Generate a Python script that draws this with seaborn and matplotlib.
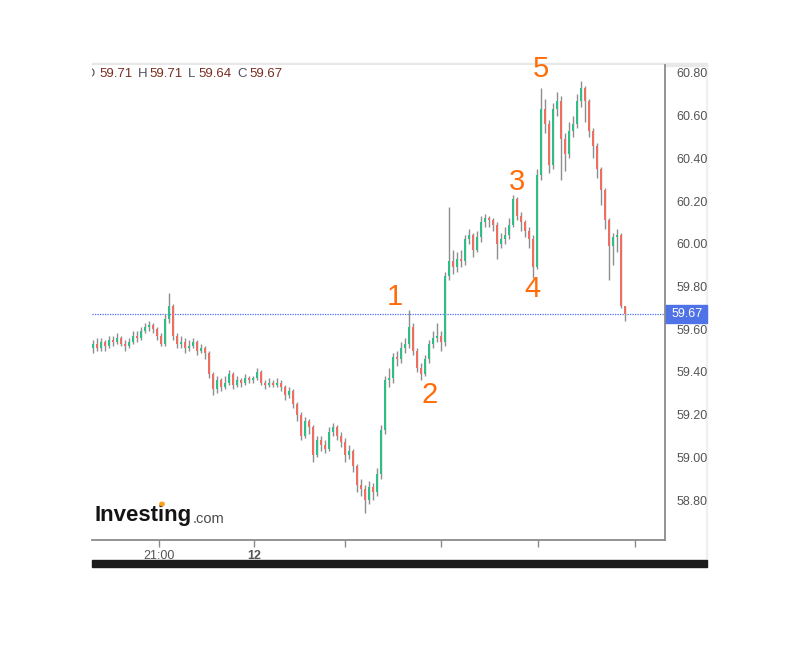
import numpy as np
import matplotlib
matplotlib.use("Agg")
import matplotlib.pyplot as plt
from matplotlib.patches import Rectangle, Circle
import seaborn as sns

# --- price data: one candle per bar, opens follow the previous close ---
first_open = 59.51
closes = [
    59.53, 59.51, 59.54, 59.52, 59.55, 59.54, 59.56, 59.53, 59.52, 59.54,
    59.57, 59.56, 59.59, 59.61, 59.62, 59.60, 59.57, 59.53, 59.65, 59.71,
    59.57, 59.53, 59.54, 59.51, 59.52, 59.54, 59.50, 59.51, 59.49, 59.39,
    59.32, 59.36, 59.33, 59.35, 59.39, 59.34, 59.36, 59.35, 59.37, 59.36,
    59.37, 59.40, 59.35, 59.34, 59.35, 59.34, 59.35, 59.33, 59.29, 59.31,
    59.25, 59.20, 59.10, 59.17, 59.14, 59.01, 59.08, 59.06, 59.04, 59.12,
    59.14, 59.10, 59.07, 59.01, 59.03, 58.96, 58.87, 58.85, 58.80, 58.86,
    58.84, 58.92, 59.13, 59.36, 59.37, 59.47, 59.46, 59.51, 59.53, 59.61,
    59.50, 59.42, 59.39, 59.46, 59.53, 59.56, 59.57, 59.54, 59.85, 59.92,
    59.89, 59.93, 59.92, 60.02, 60.04, 59.97, 60.03, 60.10, 60.12, 60.11,
    60.09, 60.00, 60.02, 60.04, 60.09, 60.21, 60.13, 60.10, 60.06, 60.02,
    59.89, 60.32, 60.63, 60.56, 60.37, 60.63, 60.67, 60.49, 60.42, 60.53,
    60.56, 60.67, 60.73, 60.67, 60.53, 60.46, 60.35, 60.25, 60.11, 59.99,
    60.03, 60.04, 59.71, 59.67,
]
highs = [
    59.55, 59.56, 59.56, 59.55, 59.57, 59.57, 59.58, 59.57, 59.55, 59.56,
    59.59, 59.59, 59.61, 59.63, 59.64, 59.63, 59.61, 59.58, 59.67, 59.77,
    59.72, 59.58, 59.57, 59.56, 59.55, 59.56, 59.55, 59.53, 59.52, 59.50,
    59.40, 59.38, 59.37, 59.38, 59.41, 59.40, 59.38, 59.37, 59.39, 59.38,
    59.38, 59.42, 59.41, 59.36, 59.37, 59.36, 59.37, 59.36, 59.34, 59.33,
    59.32, 59.26, 59.21, 59.19, 59.18, 59.15, 59.10, 59.10, 59.08, 59.14,
    59.16, 59.15, 59.12, 59.09, 59.06, 59.04, 58.97, 58.90, 58.87, 58.89,
    58.88, 58.95, 59.15, 59.38, 59.42, 59.49, 59.50, 59.54, 59.56, 59.69,
    59.63, 59.51, 59.44, 59.48, 59.55, 59.59, 59.63, 59.59, 59.87, 60.17,
    59.97, 59.96, 59.97, 60.04, 60.07, 60.05, 60.06, 60.13, 60.14, 60.13,
    60.12, 60.10, 60.05, 60.08, 60.12, 60.23, 60.22, 60.15, 60.11, 60.08,
    60.04, 60.35, 60.73, 60.68, 60.58, 60.66, 60.71, 60.69, 60.52, 60.57,
    60.60, 60.70, 60.76, 60.74, 60.68, 60.54, 60.47, 60.36, 60.26, 60.12,
    60.05, 60.07, 60.05, 59.71,
]
lows = [
    59.49, 59.50, 59.50, 59.50, 59.51, 59.52, 59.53, 59.52, 59.50, 59.51,
    59.53, 59.54, 59.55, 59.58, 59.59, 59.58, 59.55, 59.52, 59.52, 59.63,
    59.55, 59.51, 59.51, 59.49, 59.50, 59.51, 59.48, 59.49, 59.46, 59.37,
    59.29, 59.30, 59.31, 59.32, 59.34, 59.32, 59.33, 59.33, 59.34, 59.35,
    59.35, 59.36, 59.34, 59.32, 59.33, 59.33, 59.33, 59.31, 59.27, 59.28,
    59.23, 59.17, 59.08, 59.09, 59.11, 58.98, 59.00, 59.03, 59.02, 59.03,
    59.10, 59.08, 59.05, 58.98, 58.99, 58.93, 58.84, 58.82, 58.74, 58.78,
    58.80, 58.82, 58.90, 59.11, 59.33, 59.35, 59.43, 59.44, 59.49, 59.51,
    59.48, 59.40, 59.36, 59.38, 59.44, 59.51, 59.54, 59.50, 59.52, 59.83,
    59.86, 59.87, 59.89, 59.90, 60.00, 59.94, 59.96, 60.01, 60.08, 60.08,
    60.06, 59.93, 59.98, 60.00, 60.02, 60.08, 60.11, 60.06, 60.03, 59.98,
    59.84, 59.88, 60.30, 60.52, 60.33, 60.35, 60.60, 60.30, 60.34, 60.40,
    60.50, 60.54, 60.64, 60.57, 60.50, 60.40, 60.31, 60.18, 60.07, 59.83,
    59.90, 59.96, 59.70, 59.64,
]
opens = [first_open] + closes[:-1]

price_ticks = [58.80, 59.00, 59.20, 59.40, 59.60, 59.80, 60.00, 60.20, 60.40, 60.60, 60.80]
time_labels = ["21:00", "12", "", "", "", ""]
time_ticks = [16.5, 40.25, 63.0, 87.0, 111.25, 135.4]

wave_names = ["1", "2", "3", "4", "5"]
wave_x = [75.5, 84.25, 106.0, 109.75, 112.0]
wave_y = [59.75, 59.29, 60.29, 59.79, 60.82]

# --- styling ---
sns.set_theme(style="white")
plt.rcParams["font.family"] = ["Liberation Sans", "DejaVu Sans"]

GREEN = "#2fbf86"
RED = "#ee6e62"
WICK = "#8e8e8e"
AXIS = "#8a8a8a"
LABEL = "#555555"

W, H = 800, 650
fig = plt.figure(figsize=(8, 6.5), dpi=100)
fig.patch.set_facecolor("white")
ax = fig.add_axes([92 / W, 1 - 540 / H, (665 - 92) / W, (540 - 65) / H])
ax.set_facecolor("white")

xs = np.arange(len(closes))
o = np.array(opens)
c = np.array(closes)
hi = np.array(highs)
lo = np.array(lows)
colors = np.where(c >= o, GREEN, RED)

ax.vlines(xs, lo, hi, color=WICK, lw=1.0, zorder=2)
body_bottom = np.minimum(o, c)
body_h = np.maximum(np.abs(c - o), 0.006)
ax.bar(xs, body_h, bottom=body_bottom, width=0.6, color=colors,
       linewidth=0, zorder=3)

ax.set_xlim(-0.25, 143)
ax.set_ylim(58.613, 60.837)

# last price line
last = closes[-1]
ax.axhline(last, color="#4d6ff0", ls=(0, (1, 1)), lw=0.9, zorder=1)

# axes: price scale on the right, time scale at the bottom
ax.yaxis.tick_right()
ax.set_yticks(price_ticks)
ax.set_yticklabels([f"{v:.2f}" for v in price_ticks])
ax.set_xticks(time_ticks)
ax.set_xticklabels(time_labels)
ax.get_xticklabels()[1].set_fontweight("bold")
ax.tick_params(axis="y", which="both", right=True, left=False, direction="out",
               length=5, width=1, color=AXIS, labelcolor=LABEL, labelsize=9, pad=3)
ax.tick_params(axis="x", which="both", bottom=True, direction="out",
               length=5, width=1, color=AXIS, labelcolor=LABEL, labelsize=9, pad=2)
sns.despine(ax=ax, left=True, top=True, right=False, bottom=False)
for side in ("right", "bottom"):
    ax.spines[side].set_color(AXIS)
    ax.spines[side].set_linewidth(1.3)
ax.grid(False)

# wave count labels
for name, xi, yi in zip(wave_names, wave_x, wave_y):
    ax.text(xi, yi, name, ha="center", va="center", fontsize=21,
            color="#ff6c0a", clip_on=False, zorder=5)

# OHLC readout of the last candle
header = [("O", 84, "#4f4f5f"), (f"{opens[-1]:.2f}", 99, "#7a2c1f"),
          ("H", 138, "#4f4f5f"), (f"{highs[-1]:.2f}", 149, "#7a2c1f"),
          ("L", 188, "#4f4f5f"), (f"{lows[-1]:.2f}", 198, "#7a2c1f"),
          ("C", 237, "#4f4f5f"), (f"{closes[-1]:.2f}", 249, "#7a2c1f")]
for txt, px, col in header:
    ax.text((px - 92) / 573, (540 - 74) / 475, txt, transform=ax.transAxes,
            ha="left", va="center", fontsize=9.5, color=col, clip_on=True)

# frame decorations: top shadow, right edge, bottom bar, price tag
deco = [
    Rectangle((92 / W, 1 - 66 / H), (707 - 92) / W, 3 / H, color="#e8e8e8"),
    Rectangle((706 / W, 1 - 560 / H), 1 / W, (560 - 66) / H, color="#f0f0f0"),
    Rectangle((92 / W, 1 - 567 / H), (707 - 92) / W, 7 / H, color="#1c1c1c"),
    Rectangle((665 / W, 1 - 323 / H), 42 / W, 18 / H, color="#4f72e6"),
]
for p in deco:
    p.set_transform(fig.transFigure)
    p.set_zorder(-1)
    fig.patches.append(p)
fig.text(672 / W, 1 - 314 / H, f"{last:.2f}", fontsize=9, color="white",
         ha="left", va="center")

# brand mark
fig.text(95 / W, 1 - 516 / H, "Investing", fontsize=16, fontweight="bold",
         color="#141414", ha="left", va="center")
fig.text(193 / W, 1 - 519 / H, ".com", fontsize=10.5, color="#4a4a4a",
         ha="left", va="center")
dot = Circle((162 / W, 1 - 504 / H), 2.2 / W, transform=fig.transFigure,
             color="#f7a21b", zorder=5)
fig.patches.append(dot)

fig.savefig("out.png", dpi=100, facecolor="white")
